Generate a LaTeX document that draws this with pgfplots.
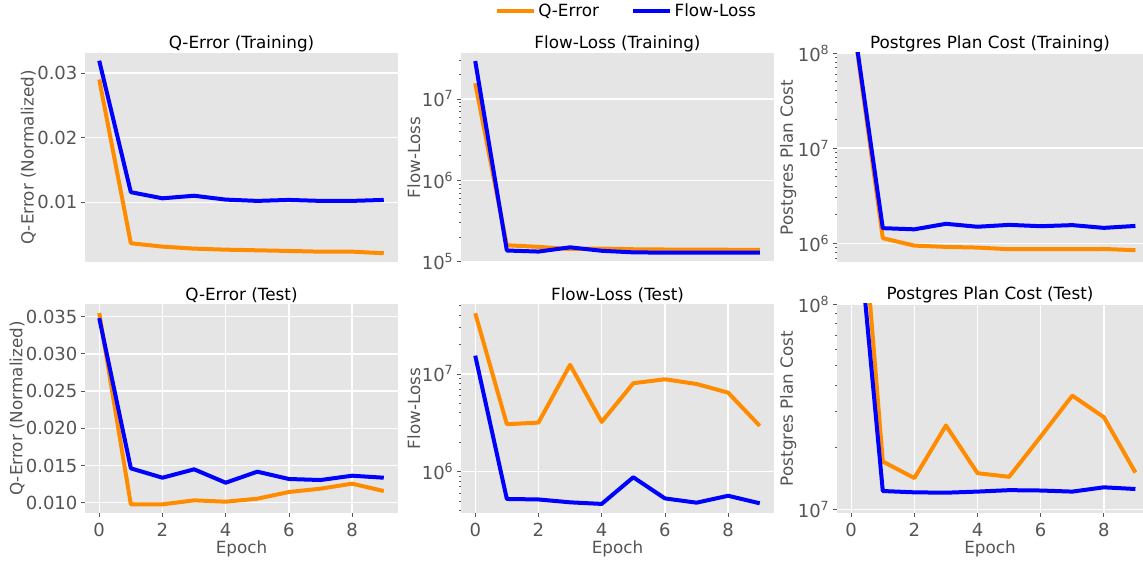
\documentclass[border=0pt]{standalone}
\usepackage{fontspec}
\setmainfont{DejaVu Sans}
\usepackage{pgfplots}
\pgfplotsset{compat=1.18}
\definecolor{bgc}{HTML}{E5E5E5}
\definecolor{tickc}{HTML}{555555}
\definecolor{qorange}{HTML}{FF8C00}
\definecolor{fblue}{HTML}{0000FF}
\pgfplotsset{
  ggbase/.style={
    scale only axis,
    anchor=south west,
    height=156.75pt,
    axis background/.style={fill=bgc},
    axis line style={draw=none},
    grid=major,
    major grid style={white, line width=1pt},
    tick pos=left,
    tick align=outside,
    tick style={tickc, line width=0.6pt},
    major tick length=3pt,
    minor tick length=1.5pt,
    /pgf/number format/assume math mode=true,
    ticklabel style={font=\fontsize{13.5}{16}\selectfont, text=tickc},
    yticklabel style={inner xsep=2.5pt},
    xticklabel style={yshift=-1pt},
    label style={font=\fontsize{12.6}{15}\selectfont, text=tickc},
    ylabel shift=-5pt,
    xlabel shift=-4pt,
    title style={font=\fontsize{12.6}{15}\selectfont, text=black},
    every axis title shift=-2.5pt,
    xmin=-0.45, xmax=9.45,
    every axis plot/.append style={line width=3pt, line join=round},
  },
  toprow/.style={xtick=\empty},
  botrow/.style={xtick={0,2,4,6,8}, xlabel={Epoch}},
  colL/.style={width=234.75pt},
  colM/.style={width=234.75pt},
  colR/.style={width=229.5pt, xmax=9.24},
}
\begin{document}
\begin{tikzpicture}
% ---------- top left
\begin{axis}[ggbase, toprow, colL, at={(63.75pt,224.25pt)},
  title={Q-Error (Training)}, ylabel={Q-Error (Normalized)},
  ymin=0.00074, ymax=0.0331, ytick={0.01,0.02,0.03},
  yticklabel style={/pgf/number format/.cd, fixed, fixed zerofill, precision=2},
  scaled y ticks=false]
\addplot[qorange] coordinates {(0,0.0290)(1,0.00364)(2,0.00312)(3,0.00281)(4,0.00265)(5,0.00255)(6,0.00245)(7,0.00234)(8,0.00234)(9,0.0021)};
\addplot[fblue] coordinates {(0,0.0319)(1,0.01155)(2,0.0106)(3,0.0110)(4,0.0104)(5,0.0102)(6,0.01035)(7,0.0102)(8,0.0102)(9,0.01035)};
\end{axis}
% ---------- top middle
\begin{axis}[ggbase, toprow, colM, at={(345.75pt,224.25pt)}, ymode=log,
  title={Flow-Loss (Training)}, ylabel={Flow-Loss},
  ymin=9.9e4, ymax=3.68e7, ytick={1e5,1e6,1e7},
  yticklabels={10\textsuperscript{5},10\textsuperscript{6},10\textsuperscript{7}},
  minor ytick={2e5,3e5,4e5,5e5,6e5,7e5,8e5,9e5,2e6,3e6,4e6,5e6,6e6,7e6,8e6,9e6,2e7,3e7},
  legend columns=2,
  legend style={at={(0.529,1.202)}, anchor=center, draw=none, fill=none,
    font=\fontsize{12.6}{15}\selectfont,
    /tikz/every even column/.append style={column sep=22pt}},
  legend image code/.code={\draw[#1] (-5pt,0pt) -- (22.75pt,0pt);}]
\addplot[qorange] coordinates {(0,1.56e7)(1,1.59e5)(2,1.52e5)(3,1.43e5)(4,1.45e5)(5,1.42e5)(6,1.41e5)(7,1.41e5)(8,1.40e5)(9,1.40e5)};
\addlegendentry{Q-Error}
\addplot[fblue] coordinates {(0,2.93e7)(1,1.37e5)(2,1.33e5)(3,1.50e5)(4,1.36e5)(5,1.30e5)(6,1.29e5)(7,1.29e5)(8,1.29e5)(9,1.29e5)};
\addlegendentry{Flow-Loss}
\end{axis}
% ---------- top right
\begin{axis}[ggbase, toprow, colR, at={(627.75pt,224.25pt)}, ymode=log,
  title={Postgres Plan Cost (Training)}, ylabel={Postgres Plan Cost},
  ymin=6.35e5, ymax=1e8, ytick={1e6,1e7,1e8},
  yticklabels={10\textsuperscript{6},10\textsuperscript{7},10\textsuperscript{8}},
  minor ytick={7e5,8e5,9e5,2e6,3e6,4e6,5e6,6e6,7e6,8e6,9e6,2e7,3e7,4e7,5e7,6e7,7e7,8e7,9e7}]
\addplot[qorange] coordinates {(0,3.0e8)(1,1.13e6)(2,9.44e5)(3,9.15e5)(4,9.0e5)(5,8.65e5)(6,8.65e5)(7,8.65e5)(8,8.7e5)(9,8.45e5)};
\addplot[fblue] coordinates {(0,3.1e8)(1,1.44e6)(2,1.40e6)(3,1.60e6)(4,1.49e6)(5,1.56e6)(6,1.51e6)(7,1.55e6)(8,1.45e6)(9,1.52e6)};
\end{axis}
% ---------- bottom left
\begin{axis}[ggbase, botrow, colL, at={(63.75pt,36pt)},
  title={Q-Error (Test)}, ylabel={Q-Error (Normalized)},
  ymin=0.00862, ymax=0.0367, ytick={0.010,0.015,0.020,0.025,0.030,0.035},
  yticklabel style={/pgf/number format/.cd, fixed, fixed zerofill, precision=3},
  scaled y ticks=false]
\addplot[qorange] coordinates {(0,0.0355)(1,0.00978)(2,0.00978)(3,0.01032)(4,0.01014)(5,0.01054)(6,0.01144)(7,0.01189)(8,0.01256)(9,0.01157)};
\addplot[fblue] coordinates {(0,0.0348)(1,0.01462)(2,0.01336)(3,0.01449)(4,0.01269)(5,0.01417)(6,0.01319)(7,0.01305)(8,0.01363)(9,0.01336)};
\end{axis}
% ---------- bottom middle
\begin{axis}[ggbase, botrow, colM, at={(345.75pt,36pt)}, ymode=log,
  title={Flow-Loss (Test)}, ylabel={Flow-Loss},
  ymin=3.78e5, ymax=5.2e7, ytick={1e6,1e7},
  yticklabels={10\textsuperscript{6},10\textsuperscript{7}},
  minor ytick={4e5,5e5,6e5,7e5,8e5,9e5,2e6,3e6,4e6,5e6,6e6,7e6,8e6,9e6,2e7,3e7,4e7,5e7}]
\addplot[qorange] coordinates {(0,4.18e7)(1,3.06e6)(2,3.18e6)(3,1.24e7)(4,3.23e6)(5,8.04e6)(6,8.83e6)(7,7.9e6)(8,6.44e6)(9,2.94e6)};
\addplot[fblue] coordinates {(0,1.54e7)(1,5.26e5)(2,5.2e5)(3,4.86e5)(4,4.68e5)(5,8.77e5)(6,5.33e5)(7,4.82e5)(8,5.67e5)(9,4.75e5)};
\end{axis}
% ---------- bottom right
\begin{axis}[ggbase, botrow, colR, at={(627.75pt,36pt)}, ymode=log,
  title={Postgres Plan Cost (Test)}, ylabel={Postgres Plan Cost},
  ymin=9.6e6, ymax=1e8, ytick={1e7,1e8},
  yticklabels={10\textsuperscript{7},10\textsuperscript{8}},
  minor ytick={2e7,3e7,4e7,5e7,6e7,7e7,8e7,9e7}]
\addplot[qorange] coordinates {(0,1.4e9)(1,1.71e7)(2,1.42e7)(3,2.56e7)(4,1.5e7)(5,1.44e7)(6,2.26e7)(7,3.58e7)(8,2.81e7)(9,1.51e7)};
\addplot[fblue] coordinates {(0,5.6e8)(1,1.228e7)(2,1.21e7)(3,1.205e7)(4,1.22e7)(5,1.24e7)(6,1.235e7)(7,1.22e7)(8,1.28e7)(9,1.256e7)};
\end{axis}
\pgfresetboundingbox
\useasboundingbox (0,0) rectangle (857.25pt,420.75pt);
\end{tikzpicture}
\end{document}
